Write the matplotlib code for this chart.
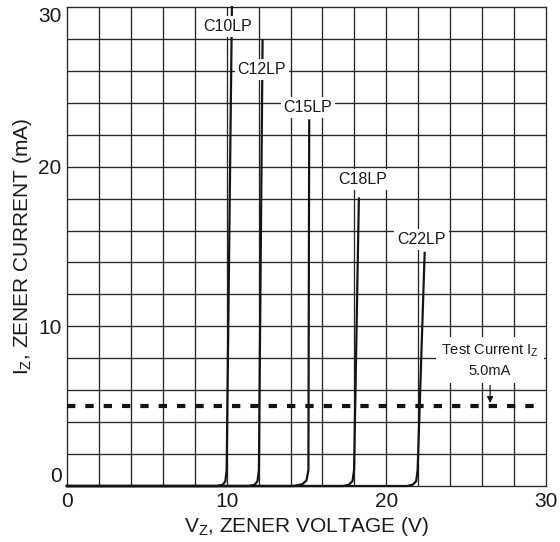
import matplotlib
matplotlib.use("Agg")
import matplotlib.pyplot as plt

plt.rcParams['font.family'] = ['Liberation Sans', 'DejaVu Sans']
plt.rcParams['mathtext.default'] = 'regular'

# ---- data ----
c10_v = [0, 9.4, 9.75, 9.92, 10.0, 10.33]
c10_i = [0, 0, 0.08, 0.3, 1.0, 30.0]
c12_v = [0, 11.4, 11.75, 11.93, 12.02, 12.25]
c12_i = [0, 0, 0.08, 0.3, 1.0, 27.9]
c15_v = [0, 14.2, 14.75, 15.0, 15.12, 15.17]
c15_i = [0, 0, 0.12, 0.35, 1.0, 22.9]
c18_v = [0, 17.3, 17.65, 17.88, 17.98, 18.28]
c18_i = [0, 0, 0.08, 0.3, 1.0, 18.0]
c22_v = [0, 21.3, 21.65, 21.87, 21.96, 22.4]
c22_i = [0, 0, 0.08, 0.3, 1.0, 14.6]

curve_names = ['C10LP', 'C12LP', 'C15LP', 'C18LP', 'C22LP']
label_x = [10.08, 12.21, 15.09, 18.5, 22.21]
label_y = [28.8, 26.1, 23.7, 19.2, 15.45]

test_current = 5.0
test_label_x = 26.5
test_label_y = 7.85
x_ticks = [0, 10, 20, 30]
y_ticks = [0, 10, 20, 30]

# ---- figure ----
fig = plt.figure(figsize=(5.6, 5.42), dpi=100)
ax = fig.add_axes([0.1196, 0.1033, 0.8554, 0.8837])
ax.set_xlim(0, 30)
ax.set_ylim(0, 30)

grid_c = '#262626'
for v in range(2, 30, 2):
    ax.axvline(v, color=grid_c, lw=0.95, zorder=1)
    ax.axhline(v, color=grid_c, lw=0.95, zorder=1)
for s in ax.spines.values():
    s.set_color(grid_c)
    s.set_linewidth(0.95)

curves = [(c10_v, c10_i), (c12_v, c12_i), (c15_v, c15_i), (c18_v, c18_i), (c22_v, c22_i)]
for (v, i) in curves:
    ax.plot(v, i, color='#141414', lw=1.6, zorder=3, solid_joinstyle='round', clip_on=False)

ax.plot([0, 29.45], [test_current, test_current], color='#141414', lw=3,
        dashes=(2.0, 2.4), zorder=3, dash_capstyle='butt')

for name, x, y in zip(curve_names, label_x, label_y):
    ax.text(x, y, name, fontsize=11.5, ha='center', va='center', color='#1a1a1a', zorder=5,
            bbox=dict(boxstyle='square,pad=0.18', fc='white', ec='none'))

ax.text(test_label_x, test_label_y, 'Test Current $I_Z$\n5.0mA', fontsize=10.5,
        ha='center', va='center', linespacing=1.45, color='#1a1a1a', zorder=5,
        bbox=dict(boxstyle='square,pad=0.35', fc='white', ec='none'))
ax.annotate('', xy=(test_label_x, test_current + 0.2), xytext=(test_label_x, 6.3),
            arrowprops=dict(arrowstyle='-|>', color='#141414', lw=0.9, mutation_scale=9,
                            shrinkA=0, shrinkB=0), zorder=6)

ax.set_xticks(x_ticks)
ax.set_yticks(y_ticks)
ax.tick_params(length=0, labelsize=15, colors='#1a1a1a', pad=4)
ylabels = ax.get_yticklabels()
ylabels[0].set_va('bottom')
ylabels[-1].set_va('top')

ax.set_xlabel('$V_Z$, ZENER VOLTAGE (V)', fontsize=15, color='#1a1a1a', labelpad=3)
ax.set_ylabel('$I_Z$, ZENER CURRENT (mA)', fontsize=15, color='#1a1a1a', labelpad=3)

fig.savefig('out.png', dpi=100)
